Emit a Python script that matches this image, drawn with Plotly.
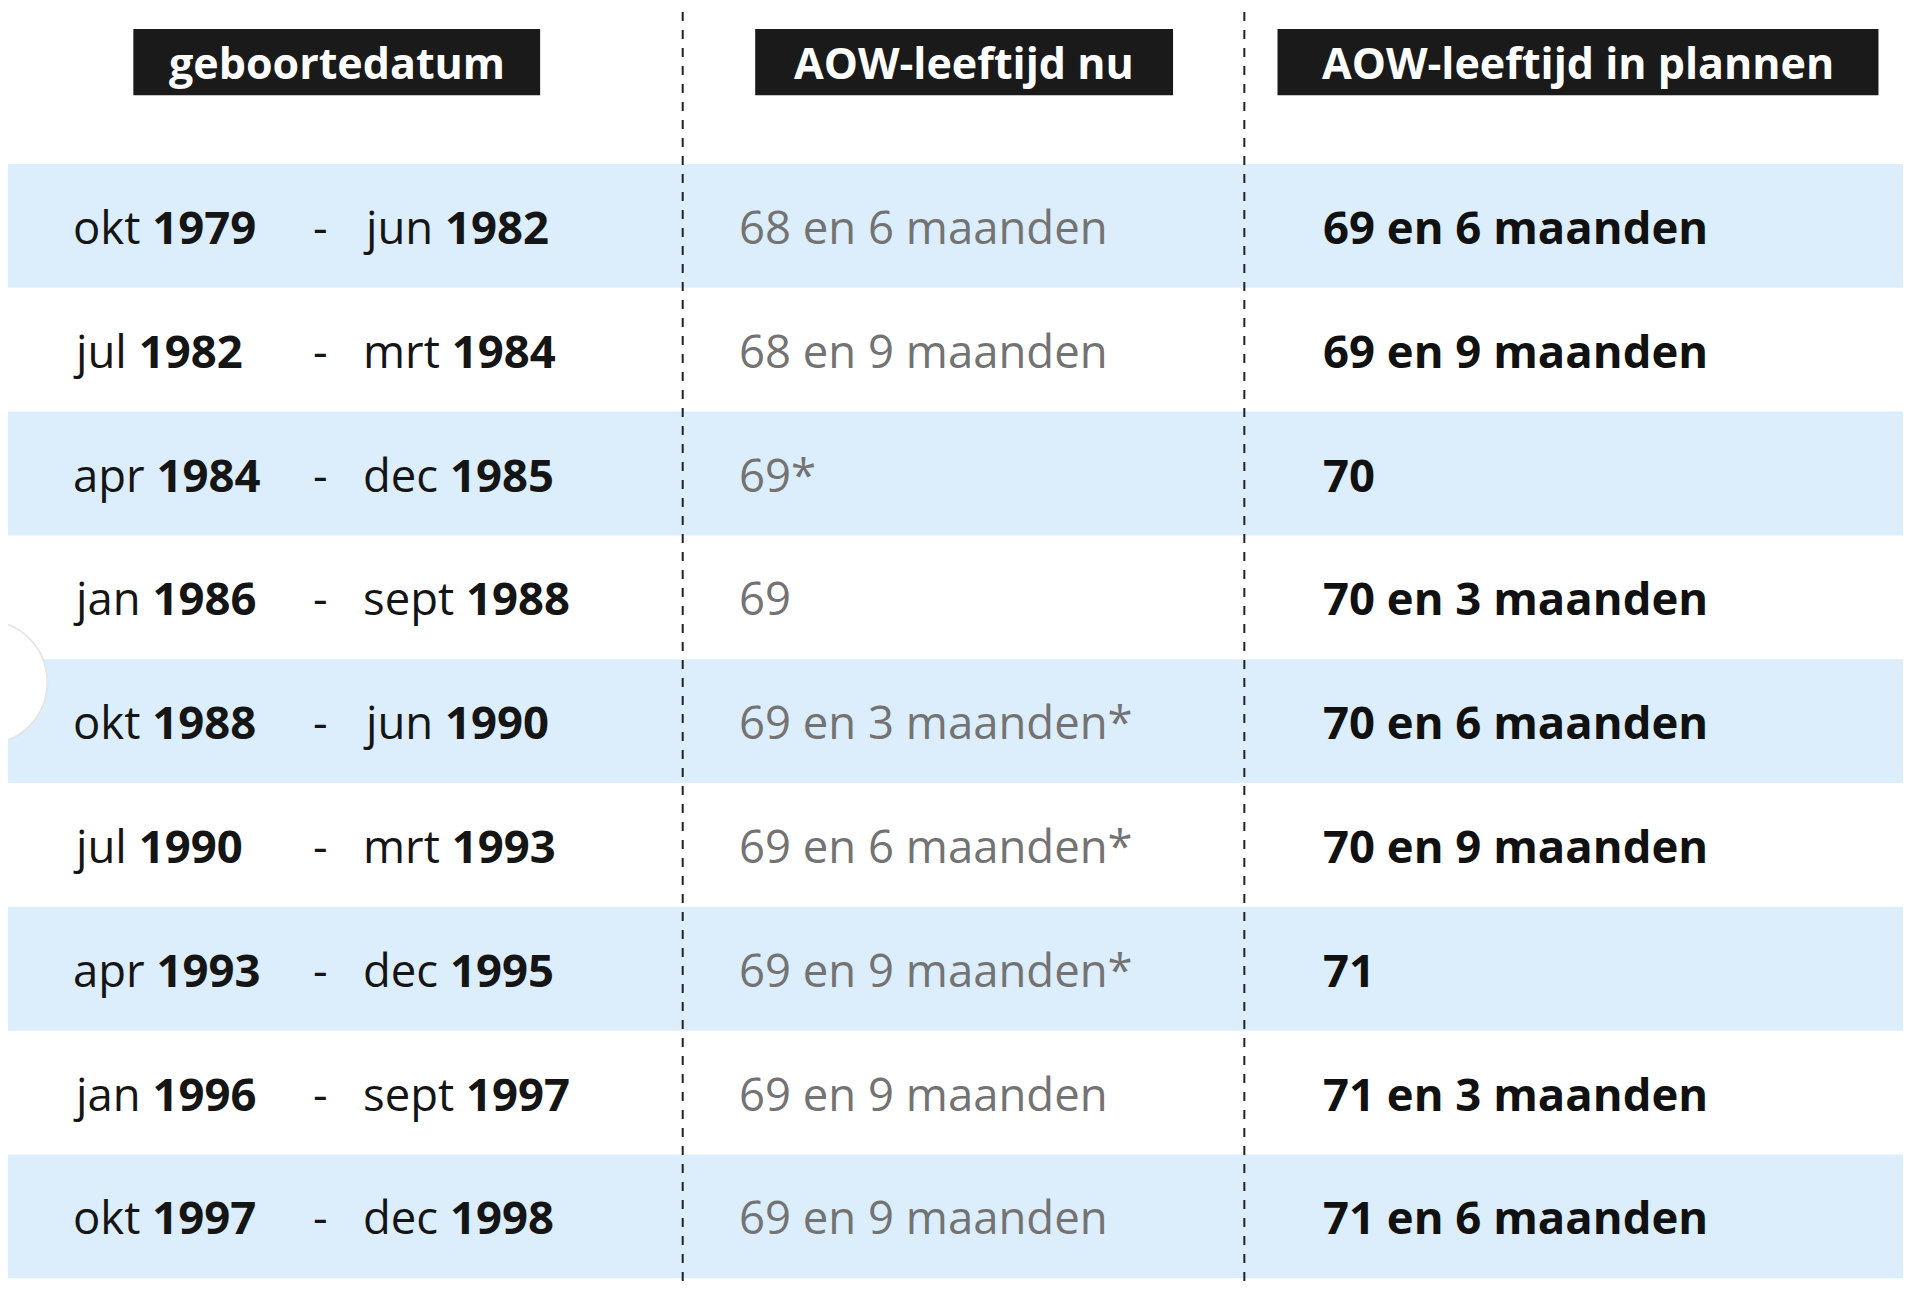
import plotly.graph_objects as go

start_month = ["okt", "jul", "apr", "jan", "okt", "jul", "apr", "jan", "okt"]
start_year = ["1979", "1982", "1984", "1986", "1988", "1990", "1993", "1996", "1997"]
end_month = ["jun", "mrt", "dec", "sept", "jun", "mrt", "dec", "sept", "dec"]
end_year = ["1982", "1984", "1985", "1988", "1990", "1993", "1995", "1997", "1998"]
aow_now = ["68 en 6 maanden", "68 en 9 maanden", "69*", "69", "69 en 3 maanden*",
           "69 en 6 maanden*", "69 en 9 maanden*", "69 en 9 maanden", "69 en 9 maanden"]
aow_plan = ["69 en 6 maanden", "69 en 9 maanden", "70", "70 en 3 maanden", "70 en 6 maanden",
            "70 en 9 maanden", "71", "71 en 3 maanden", "71 en 6 maanden"]
headers = ["geboortedatum", "AOW-leeftijd nu", "AOW-leeftijd in plannen"]

S = 1927 / 1568
FONT = "Open Sans"
fig = go.Figure()
shapes, ann = [], []
row_top, row_h = 133, 100.8
for i in range(len(start_year)):
    y0 = row_top + i * row_h
    yc = y0 + row_h / 2
    if i % 2 == 0:
        shapes.append(dict(type="rect", x0=-20, x1=1548, y0=y0, y1=y0 + row_h,
                           fillcolor="#dcedfb", line_width=0, layer="below"))
    fs = 37 * S
    ann.append(dict(x=57, y=yc, text=f"{start_month[i]} <b>{start_year[i]}</b>", xanchor="left",
                    font=dict(size=fs, color="#151515", family=FONT)))
    ann.append(dict(x=260, y=yc, text="-", xanchor="center",
                    font=dict(size=fs, color="#151515", family=FONT)))
    ann.append(dict(x=293, y=yc, text=f"{end_month[i]} <b>{end_year[i]}</b>", xanchor="left",
                    font=dict(size=fs, color="#151515", family=FONT)))
    ann.append(dict(x=599, y=yc, text=aow_now[i], xanchor="left",
                    font=dict(size=fs, color="#737373", family=FONT)))
    ann.append(dict(x=1074, y=yc, text=f"<b>{aow_plan[i]}</b>", xanchor="left",
                    font=dict(size=fs, color="#111111", family=FONT)))

hx = [(108, 439), (614, 954), (1039, 1528)]
for (a, b), h in zip(hx, headers):
    shapes.append(dict(type="rect", x0=a, x1=b, y0=23, y1=77, fillcolor="#1a1a1a", line_width=0))
    ann.append(dict(x=(a + b) / 2, y=50, text=f"<b>{h}</b>", xanchor="center",
                    font=dict(size=35 * S, color="white", family=FONT)))

for x in (555, 1012):
    shapes.append(dict(type="line", x0=x, x1=x, y0=-20, y1=1045,
                       line=dict(color="#222", width=2, dash="dash")))

shapes.append(dict(type="circle", x0=-60, x1=38, y0=505, y1=605,
                   fillcolor="white", line=dict(color="#e6e6e6", width=2)))

for a in ann:
    a.update(xref="x", yref="y", showarrow=False, yanchor="middle")

fig.update_layout(width=1927, height=1302, margin=dict(l=0, r=0, t=0, b=0),
                  paper_bgcolor="white", plot_bgcolor="white",
                  shapes=shapes, annotations=ann,
                  xaxis=dict(range=[6, 1574], visible=False, fixedrange=True),
                  yaxis=dict(range=[1066, 6], visible=False, fixedrange=True),
                  showlegend=False)
fig.write_html("out.html")
